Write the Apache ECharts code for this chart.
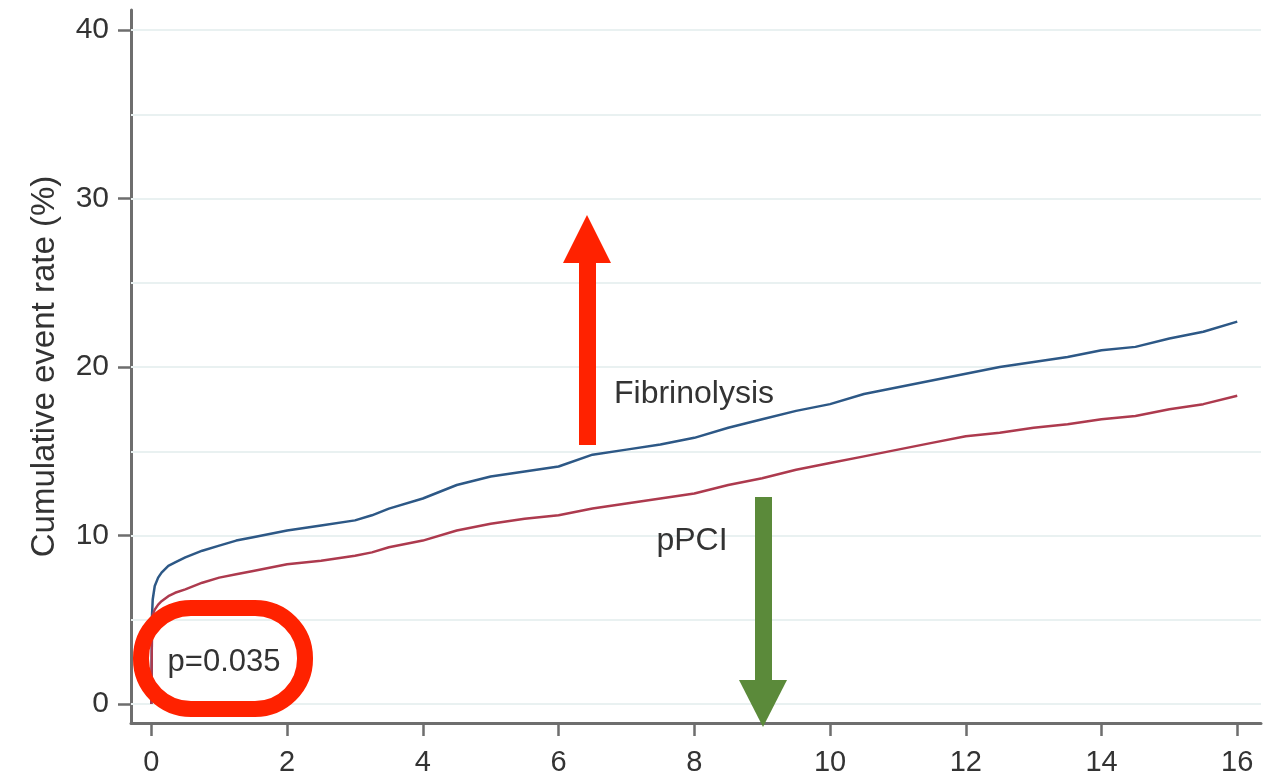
<!DOCTYPE html>
<html>
<head>
<meta charset="utf-8">
<script src="https://cdn.jsdelivr.net/npm/echarts@6/dist/echarts.min.js"></script>
<style>
html,body{margin:0;padding:0;background:#fff;}
#chart{width:1283px;height:778px;}
</style>
</head>
<body>
<div id="chart"></div>
<script>
// ---- data ----
var timeYears = [0, 0.01, 0.02, 0.05, 0.1, 0.15, 0.25, 0.35, 0.5, 0.75, 1, 1.25, 1.5, 2, 2.5, 3, 3.25, 3.5, 4, 4.5, 5, 5.5, 6, 6.5, 7, 7.5, 8, 8.5, 9, 9.5, 10, 10.5, 11, 11.5, 12, 12.5, 13, 13.5, 14, 14.5, 15, 15.5, 16];
var fibrinolysis = [0, 5.3, 6.2, 7.0, 7.5, 7.8, 8.2, 8.4, 8.7, 9.1, 9.4, 9.7, 9.9, 10.3, 10.6, 10.9, 11.2, 11.6, 12.2, 13.0, 13.5, 13.8, 14.1, 14.8, 15.1, 15.4, 15.8, 16.4, 16.9, 17.4, 17.8, 18.4, 18.8, 19.2, 19.6, 20.0, 20.3, 20.6, 21.0, 21.2, 21.7, 22.1, 22.7];
var pPCI = [0, 5.0, 5.3, 5.6, 5.9, 6.1, 6.4, 6.6, 6.8, 7.2, 7.5, 7.7, 7.9, 8.3, 8.5, 8.8, 9.0, 9.3, 9.7, 10.3, 10.7, 11.0, 11.2, 11.6, 11.9, 12.2, 12.5, 13.0, 13.4, 13.9, 14.3, 14.7, 15.1, 15.5, 15.9, 16.1, 16.4, 16.6, 16.9, 17.1, 17.5, 17.8, 18.3];
var xTicks = [0, 2, 4, 6, 8, 10, 12, 14, 16];
var yTicks = [0, 10, 20, 30, 40];
var yGridLines = [0, 5, 10, 15, 20, 25, 30, 35, 40];
var seriesNames = ['Fibrinolysis', 'pPCI'];
var yAxisTitle = 'Cumulative event rate (%)';
var pValueText = 'p=0.035';

function pairs(xs, ys) { return xs.map(function (x, i) { return [x, ys[i]]; }); }

var FONT = '"Liberation Sans", Arial, Helvetica, sans-serif';
var chart = echarts.init(document.getElementById('chart'), null, { renderer: 'canvas' });

var axisCol = '#6e6e6e';
var option = {
  backgroundColor: '#ffffff',
  animation: false,
  grid: { left: 131, right: 22, top: 10, bottom: 55, containLabel: false },
  xAxis: {
    type: 'value', min: -0.3, max: 16.35,
    axisLine: { show: true, onZero: false, lineStyle: { color: axisCol, width: 3 } },
    axisTick: { show: true, customValues: xTicks, length: 13, lineStyle: { color: axisCol, width: 2.5 } },
    axisLabel: { show: true, customValues: xTicks, margin: 25, fontSize: 29, color: '#333', fontFamily: FONT },
    splitLine: { show: false }
  },
  yAxis: {
    type: 'value', min: -1.13, max: 41.2,
    name: yAxisTitle, nameLocation: 'middle', nameGap: 70,
    nameTextStyle: { fontSize: 33, color: '#333', fontFamily: FONT },
    axisLine: { show: true, onZero: false, lineStyle: { color: axisCol, width: 3 } },
    axisTick: { show: true, customValues: yTicks, length: 13, lineStyle: { color: axisCol, width: 2.5 } },
    axisLabel: { show: true, customValues: yTicks, margin: 22, fontSize: 30, color: '#333', fontFamily: FONT },
    splitLine: { show: false }
  },
  series: [
    {
      name: seriesNames[0], type: 'line', data: pairs(timeYears, fibrinolysis),
      showSymbol: false, symbol: 'none', smooth: false,
      lineStyle: { color: '#2d5886', width: 2.5 }, z: 3,
      markLine: {
        silent: true, symbol: ['none', 'none'], label: { show: false },
        lineStyle: { color: '#e9f1f1', width: 2, type: 'solid' },
        data: yGridLines.map(function (v) { return { yAxis: v }; }), z: 1
      }
    },
    {
      name: seriesNames[1], type: 'line', data: pairs(timeYears, pPCI),
      showSymbol: false, symbol: 'none', smooth: false,
      lineStyle: { color: '#ad3a4e', width: 2.5 }, z: 3
    }
  ],
  graphic: [
    { type: 'text', z: 50, style: { text: seriesNames[0], x: 694, y: 394, align: 'center', verticalAlign: 'middle', fill: '#333', font: '32px ' + FONT } },
    { type: 'text', z: 50, style: { text: seriesNames[1], x: 692, y: 541, align: 'center', verticalAlign: 'middle', fill: '#333', font: '32px ' + FONT } },
    { type: 'text', z: 50, style: { text: pValueText, x: 224, y: 662, align: 'center', verticalAlign: 'middle', fill: '#333', font: '31px ' + FONT } },
    { type: 'rect', z: 60, shape: { x: 141, y: 608, width: 164, height: 101, r: 50 }, style: { fill: 'none', stroke: '#ff2200', lineWidth: 16 } },
    // red up arrow
    { type: 'rect', z: 60, shape: { x: 579, y: 258, width: 17, height: 187 }, style: { fill: '#ff2200' } },
    { type: 'polygon', z: 60, shape: { points: [[563, 263], [611, 263], [587, 215]] }, style: { fill: '#ff2200' } },
    // green down arrow
    { type: 'rect', z: 60, shape: { x: 755, y: 497, width: 17, height: 188 }, style: { fill: '#5b8a3a' } },
    { type: 'polygon', z: 60, shape: { points: [[739, 680], [787, 680], [763, 727]] }, style: { fill: '#5b8a3a' } }
  ]
};
chart.setOption(option);
</script>
</body>
</html>
